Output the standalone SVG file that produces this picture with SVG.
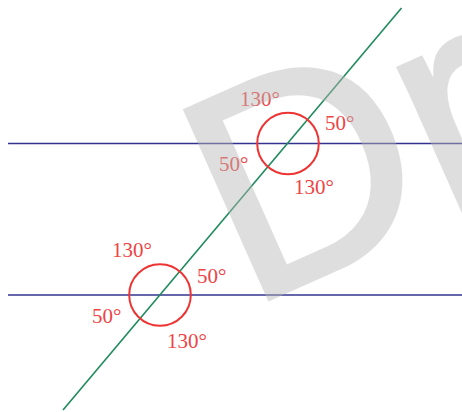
<svg xmlns="http://www.w3.org/2000/svg" width="462" height="412" viewBox="0 0 462 412">
  <style>
    .wm { font-family: "Liberation Sans", Arial, sans-serif; font-size: 300px; fill: #b8b8b8; stroke: #b8b8b8; stroke-width: 4; opacity: 0.45; }
    .par { stroke: #33338f; stroke-width: 1.5; fill: none; }
    .trans { stroke: #1f8a5c; stroke-width: 1.6; fill: none; }
    .mark { stroke: #ee3333; stroke-width: 2; fill: none; }
    .lbl { font-family: "Liberation Serif", "Times New Roman", serif; font-size: 21px; fill: #ee4444; }
  </style>
  <rect width="462" height="412" fill="#ffffff"/>
  <g id="connectors">
    <line class="par" x1="8" y1="143.5" x2="462" y2="143.5"/>
    <line class="par" x1="8" y1="295" x2="462" y2="295"/>
    <line class="trans" x1="63" y1="410" x2="401.5" y2="8"/>
  </g>
  <g id="upper-intersection">
    <circle class="mark" cx="288" cy="143.5" r="30.8"/>
    <text class="lbl" x="240" y="106">130°</text>
    <text class="lbl" x="325" y="130">50°</text>
    <text class="lbl" x="219" y="171">50°</text>
    <text class="lbl" x="294" y="194">130°</text>
  </g>
  <g id="lower-intersection">
    <circle class="mark" cx="160" cy="295" r="30.8"/>
    <text class="lbl" x="112" y="257">130°</text>
    <text class="lbl" x="197" y="283">50°</text>
    <text class="lbl" x="92" y="323">50°</text>
    <text class="lbl" x="167" y="348">130°</text>
  </g>
  <g id="watermark">
    <text class="wm" transform="translate(267,300) rotate(-24)" x="-22" y="0">Dr</text>
  </g>
</svg>
